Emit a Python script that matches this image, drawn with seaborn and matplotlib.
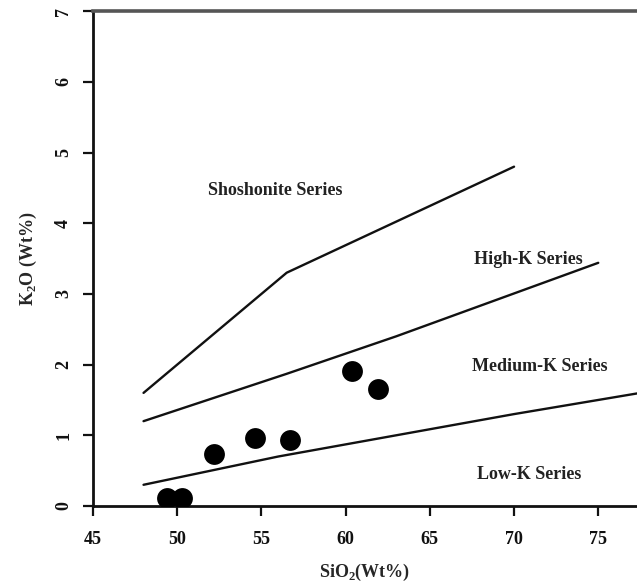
import matplotlib
matplotlib.use("Agg")
import matplotlib.pyplot as plt
import seaborn as sns
import pandas as pd

# Sample analyses (SiO2 vs K2O, wt%)
sio2 = [49.4, 50.3, 52.2, 54.6, 56.7, 60.4, 61.9]
k2o = [0.12, 0.12, 0.73, 0.96, 0.94, 1.91, 1.66]

# Series boundary lines
sho_hk_x = [48, 56.5, 70]
sho_hk_y = [1.6, 3.3, 4.8]
hk_mk_x = [48, 56.5, 63, 75]
hk_mk_y = [1.2, 1.87, 2.4, 3.44]
mk_lk_x = [48, 56, 63, 70, 80]
mk_lk_y = [0.3, 0.7, 1.0, 1.3, 1.7]

series_names = ["Shoshonite Series", "High-K Series", "Medium-K Series", "Low-K Series"]
series_x = [55.8, 70.85, 71.55, 70.9]
series_y = [4.47, 3.49, 1.97, 0.44]

x_ticks = [45, 50, 55, 60, 65, 70, 75]
y_ticks = [0, 1, 2, 3, 4, 5, 6, 7]

sns.set_style("ticks")
plt.rcParams["font.family"] = ["Liberation Serif", "DejaVu Serif"]
plt.rcParams["font.weight"] = "bold"

fig = plt.figure(figsize=(6.37, 5.87), dpi=100)
ax = fig.add_axes([0.146, 0.138, 0.854, 0.843])

boundaries = [(sho_hk_x, sho_hk_y), (hk_mk_x, hk_mk_y), (mk_lk_x, mk_lk_y)]
for bx, by in boundaries:
    df = pd.DataFrame({"x": bx, "y": by})
    sns.lineplot(data=df, x="x", y="y", ax=ax, color="#111111", lw=1.7,
                 sort=False, estimator=None, legend=False)

pts = pd.DataFrame({"SiO2": sio2, "K2O": k2o})
sns.scatterplot(data=pts, x="SiO2", y="K2O", ax=ax, s=225, color="black",
                edgecolor="black", linewidth=0, zorder=5, legend=False)

for name, tx, ty in zip(series_names, series_x, series_y):
    ax.text(tx, ty, name, ha="center", va="center", fontsize=13,
            fontweight="bold", color="#222222")

ax.set_xlim(45, 77.3)
ax.set_ylim(0, 7)
ax.set_xticks(x_ticks)
ax.set_yticks(y_ticks)
ax.tick_params(axis="both", direction="out", length=7, width=1.6,
               labelsize=13, colors="#111111")
ax.tick_params(axis="x", pad=11)
ax.tick_params(axis="y", pad=8)
for lbl in ax.get_yticklabels():
    lbl.set_rotation(90)
    lbl.set_va("center")
for lbl in ax.get_xticklabels() + ax.get_yticklabels():
    lbl.set_fontweight("bold")

ax.set_xlabel(r"SiO$_\mathregular{2}$(Wt%)", fontsize=13, fontweight="bold",
              labelpad=10)
ax.set_ylabel(r"K$_\mathregular{2}$O (Wt%)", fontsize=13, fontweight="bold",
              labelpad=12)

for side in ["left", "bottom"]:
    ax.spines[side].set_linewidth(2.0)
    ax.spines[side].set_color("#111111")
ax.spines["top"].set_linewidth(2.6)
ax.spines["top"].set_color("#555555")
ax.spines["right"].set_visible(False)

fig.savefig("out.png", dpi=100, facecolor="white")
